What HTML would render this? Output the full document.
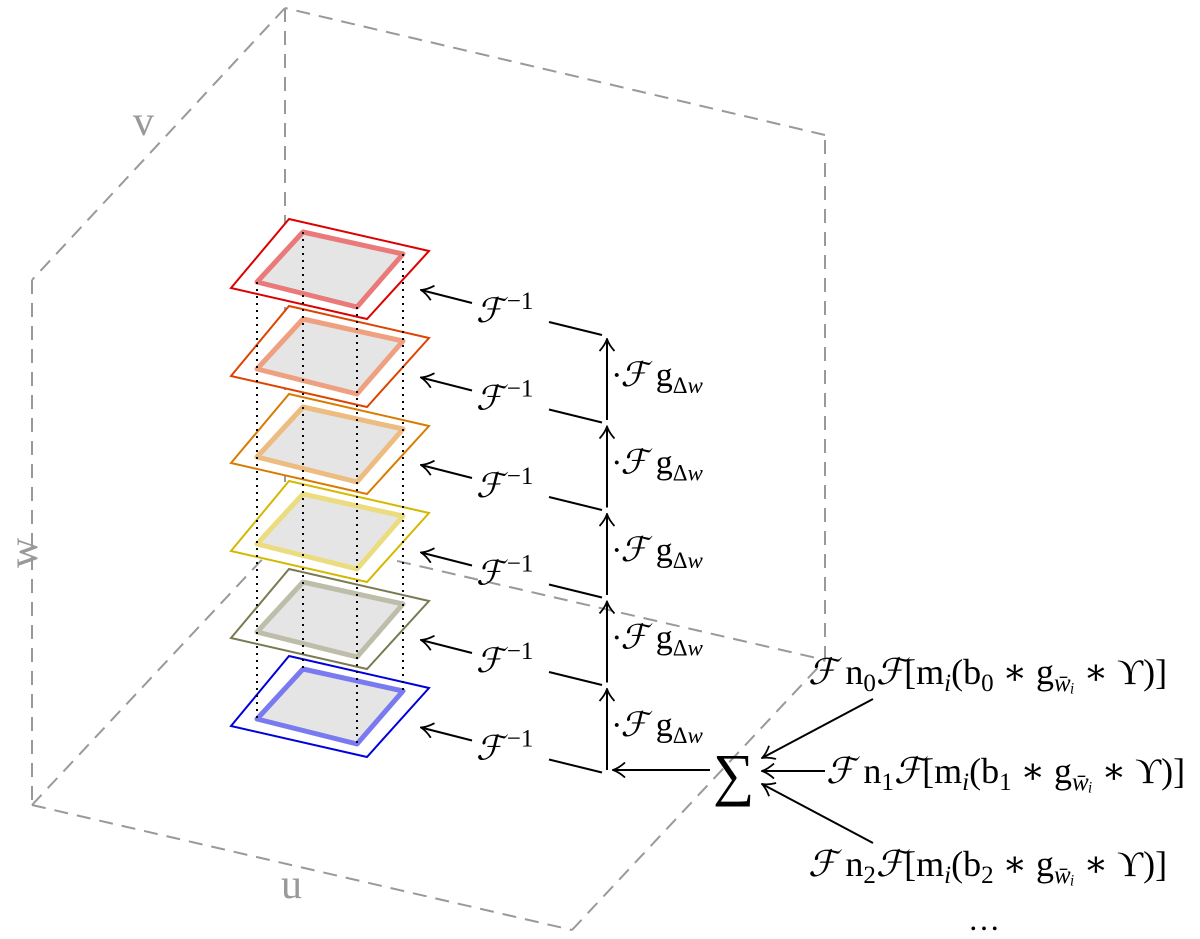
<!DOCTYPE html>
<html><head><meta charset="utf-8"><style>
html,body{margin:0;padding:0;background:#fff;}
svg{display:block;}
text{font-family:"Liberation Serif","DejaVu Serif",serif;}
</style></head><body>
<svg width="1200" height="939" viewBox="0 0 1200 939" xmlns="http://www.w3.org/2000/svg">
<defs>
<marker id="ah" viewBox="0 0 14 16" refX="13" refY="8" markerWidth="14" markerHeight="16" markerUnits="userSpaceOnUse" orient="auto">
<path d="M1,0.5 Q7,6 13,8 Q7,10 1,15.5" fill="none" stroke="#000" stroke-width="1.8"/>
</marker>
</defs>
<g stroke="#999" stroke-width="2" stroke-dasharray="14,9" fill="none">
<line x1="32" y1="805" x2="572" y2="930"/>
<line x1="572" y1="930" x2="825" y2="660"/>
<line x1="825" y1="660" x2="825" y2="135"/>
<line x1="825" y1="135" x2="285" y2="8"/>
<line x1="285" y1="8" x2="32" y2="280"/>
<line x1="32" y1="280" x2="32" y2="805"/>
<line x1="32" y1="805" x2="285" y2="535"/>
<line x1="285" y1="535" x2="825" y2="660"/>
<line x1="285" y1="8" x2="285" y2="535"/>
</g>
<g fill="#999" font-size="42">
<text x="133" y="135">v</text>
<text x="281" y="898">u</text>
<text x="0" y="0" transform="translate(37,568) rotate(-90)">w</text>
</g>
<g stroke-width="2" fill="none">
<polygon points="231,726 289,656 429,688 367,757" fill="#fff" stroke="#0000dd"/>
<polygon points="257,719 303,669 403,691 357,744" fill="#e5e5e5" stroke="#7a7af0" stroke-width="5" stroke-linejoin="round"/>
<polygon points="231,638 289,569 429,601 367,669" fill="#fff" stroke="#7a7a50"/>
<polygon points="257,632 303,582 403,604 357,657" fill="#e5e5e5" stroke="#bdbdaa" stroke-width="5" stroke-linejoin="round"/>
<polygon points="231,551 289,481 429,513 367,582" fill="#fff" stroke="#d4b800"/>
<polygon points="257,544 303,494 403,516 357,569" fill="#e5e5e5" stroke="#ecdc80" stroke-width="5" stroke-linejoin="round"/>
<polygon points="231,463 289,394 429,426 367,494" fill="#fff" stroke="#d97b00"/>
<polygon points="257,457 303,407 403,429 357,482" fill="#e5e5e5" stroke="#ecbc80" stroke-width="5" stroke-linejoin="round"/>
<polygon points="231,376 289,306 429,338 367,407" fill="#fff" stroke="#dd4400"/>
<polygon points="257,369 303,319 403,341 357,394" fill="#e5e5e5" stroke="#eea080" stroke-width="5" stroke-linejoin="round"/>
<polygon points="231,288 289,219 429,251 367,319" fill="#fff" stroke="#dd0000"/>
<polygon points="257,282 303,232 403,254 357,307" fill="#e5e5e5" stroke="#ea7a7a" stroke-width="5" stroke-linejoin="round"/>
</g>
<g stroke="#000" stroke-width="2" stroke-dasharray="2,5">
<line x1="257" y1="282" x2="257" y2="719"/>
<line x1="303" y1="232" x2="303" y2="669"/>
<line x1="357" y1="307" x2="357" y2="744"/>
<line x1="403" y1="254" x2="403" y2="691"/>
</g>
<g stroke="#000" stroke-width="2" fill="none">
<g id="lv">
<line x1="472" y1="303" x2="421" y2="290" marker-end="url(#ah)"/>
<line x1="549" y1="322" x2="602" y2="335"/>
</g>
<use href="#lv" y="87.5"/><use href="#lv" y="175"/><use href="#lv" y="262.5"/><use href="#lv" y="350"/><use href="#lv" y="437.5"/>
<g id="va"><line x1="607" y1="420" x2="607" y2="339" marker-end="url(#ah)"/></g>
<use href="#va" y="87.5"/><use href="#va" y="175"/><use href="#va" y="262.5"/><use href="#va" y="350"/>
<line x1="710" y1="770" x2="613" y2="770" marker-end="url(#ah)"/>
<line x1="873" y1="699" x2="762" y2="758" marker-end="url(#ah)"/>
<line x1="825" y1="771" x2="762" y2="771" marker-end="url(#ah)"/>
<line x1="873" y1="843" x2="762" y2="784" marker-end="url(#ah)"/>
</g>
<g font-size="34" fill="#000">
<g id="fi"><text x="476" y="322" font-style="italic">ℱ<tspan font-size="25" dx="4" dy="-13" font-style="normal">−1</tspan></text></g>
<use href="#fi" y="87.5"/><use href="#fi" y="175"/><use href="#fi" y="262.5"/><use href="#fi" y="350"/><use href="#fi" y="437.5"/>
<g id="fg"><text x="612" y="386" font-size="34"><tspan font-style="italic">·ℱ</tspan> g<tspan font-size="23" dy="7">Δ<tspan font-style="italic">w</tspan></tspan></text></g>
<use href="#fg" y="87.5"/><use href="#fg" y="175"/><use href="#fg" y="262.5"/><use href="#fg" y="350"/>
<text x="713" y="794" font-size="58">∑</text>
<text x="808" y="684" font-size="36"><tspan font-style="italic">ℱ</tspan> n<tspan font-size="25" dy="7">0</tspan><tspan dy="-7" font-style="italic">ℱ</tspan>[m<tspan font-size="25" dy="7" font-style="italic">i</tspan><tspan dy="-7">(b</tspan><tspan font-size="25" dy="7">0</tspan><tspan dy="-7"> ∗ g</tspan><tspan font-size="25" dy="7" font-style="italic">w̄ᵢ</tspan><tspan dy="-7"> ∗ ϒ)]</tspan></text>
<text x="826" y="783" font-size="36"><tspan font-style="italic">ℱ</tspan> n<tspan font-size="25" dy="7">1</tspan><tspan dy="-7" font-style="italic">ℱ</tspan>[m<tspan font-size="25" dy="7" font-style="italic">i</tspan><tspan dy="-7">(b</tspan><tspan font-size="25" dy="7">1</tspan><tspan dy="-7"> ∗ g</tspan><tspan font-size="25" dy="7" font-style="italic">w̄ᵢ</tspan><tspan dy="-7"> ∗ ϒ)]</tspan></text>
<text x="808" y="876" font-size="36"><tspan font-style="italic">ℱ</tspan> n<tspan font-size="25" dy="7">2</tspan><tspan dy="-7" font-style="italic">ℱ</tspan>[m<tspan font-size="25" dy="7" font-style="italic">i</tspan><tspan dy="-7">(b</tspan><tspan font-size="25" dy="7">2</tspan><tspan dy="-7"> ∗ g</tspan><tspan font-size="25" dy="7" font-style="italic">w̄ᵢ</tspan><tspan dy="-7"> ∗ ϒ)]</tspan></text>
<text x="968" y="930" font-size="32">…</text>
</g>
</svg>
</body></html>
